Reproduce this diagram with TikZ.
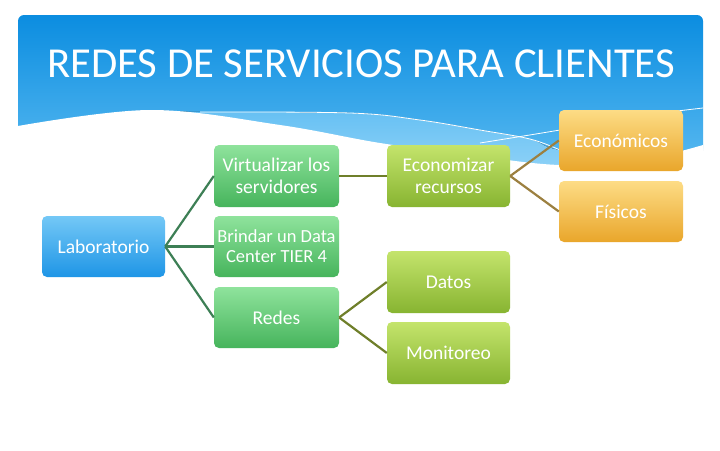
\documentclass[tikz,border=0pt]{standalone}
\usepackage{fontspec}
\setmainfont{Carlito}
\begin{document}
\begin{tikzpicture}[x=1pt,y=-1pt,
  box/.style={rectangle, rounded corners=5pt, draw=none, text=white, align=center,
    minimum width=124pt, minimum height=61pt, inner sep=2pt,
    font=\fontsize{19.5}{22}\selectfont},
  bluebox/.style={box, top color=bluetop, bottom color=bluebot},
  greenbox/.style={box, top color=greentop, bottom color=greenbot},
  limebox/.style={box, top color=limetop, bottom color=limebot},
  orangebox/.style={box, top color=orangetop, bottom color=orangebot},
  linkA/.style={draw=linkgreen, line width=2.2pt},
  linkB/.style={draw=linkolive, line width=2.2pt},
  linkC/.style={draw=linktan, line width=2.2pt}
]
\definecolor{bluetop}{HTML}{74C8F6}
\definecolor{bluebot}{HTML}{1E95E6}
\definecolor{greentop}{HTML}{8FE39C}
\definecolor{greenbot}{HTML}{46B45C}
\definecolor{limetop}{HTML}{C4E46C}
\definecolor{limebot}{HTML}{87B431}
\definecolor{orangetop}{HTML}{FDDC85}
\definecolor{orangebot}{HTML}{E9A62B}
\definecolor{linkgreen}{HTML}{3D7F55}
\definecolor{linkolive}{HTML}{6F7F2A}
\definecolor{linktan}{HTML}{9C8040}
\definecolor{headtop}{HTML}{0B8DE0}
\definecolor{headbot}{HTML}{5FBDF2}
\definecolor{bandtop}{HTML}{66C0F3}
\definecolor{bandbot}{HTML}{98D6F8}

\useasboundingbox (0,0) rectangle (720,450);
\fill[white] (0,0) rectangle (720,450);

% header
\shade[top color=headtop, bottom color=headbot, rounded corners=6pt]
  (18,15) rectangle (703,180);
% lighter band
\fill[top color=bandtop, bottom color=bandbot]
  plot[smooth, tension=0.6] coordinates {(150,110) (200,112) (350,113) (420,120) (480,130) (530,139) (560,150) (640,156) (703,150)}
  -- (703,185) -- (18,185) -- cycle;
% white lower area
\fill[white]
  plot[smooth, tension=0.6] coordinates {(18,126) (150,110) (280,125) (380,143) (470,155) (560,165) (640,160) (703,145)}
  -- (710,195) -- (10,195) -- cycle;
% decorative lines
\draw[white, line width=0.8pt]
  plot[smooth, tension=0.6] coordinates {(200,112) (350,113) (420,120) (480,130) (530,139) (560,150)};
\draw[white, line width=0.8pt]
  plot[smooth, tension=0.6] coordinates {(480,143) (560,130) (640,116) (703,108)};

% title
\node[anchor=base west, text=white, inner sep=0pt, font=\fontsize{42.7}{46}\selectfont]
  (title) at (47,77) {REDES DE SERVICIOS PARA CLIENTES};

% boxes
\node[bluebox, minimum width=123pt] (lab) at (103.5,246.5) {Laboratorio};
\node[greenbox, minimum width=125pt, minimum height=62pt] (virt) at (276.5,176) {Virtualizar los\\servidores};
\node[greenbox, minimum width=125pt, font=\fontsize{18.5}{20}\selectfont] (brin) at (276.5,246.5) {Brindar un Data\\Center TIER 4};
\node[greenbox, minimum width=125pt] (redes) at (276.5,317.5) {Redes};
\node[limebox, minimum width=123pt, minimum height=62pt] (econ) at (448.5,176) {Economizar\\recursos};
\node[limebox, minimum width=123pt, minimum height=62pt] (datos) at (448.5,282) {Datos};
\node[limebox, minimum width=123pt, minimum height=62pt] (moni) at (448.5,353) {Monitoreo};
\node[orangebox] (econo) at (621,140.5) {Económicos};
\node[orangebox] (fis) at (621,211.5) {Físicos};

% connectors
\draw[linkA] (lab.east) -- (virt.west);
\draw[linkA] (lab.east) -- (brin.west);
\draw[linkA] (lab.east) -- (redes.west);
\draw[linkB] (virt.east) -- (econ.west);
\draw[linkB] (redes.east) -- (datos.west);
\draw[linkB] (redes.east) -- (moni.west);
\draw[linkC] (econ.east) -- (econo.west);
\draw[linkC] (econ.east) -- (fis.west);
\end{tikzpicture}
\end{document}
